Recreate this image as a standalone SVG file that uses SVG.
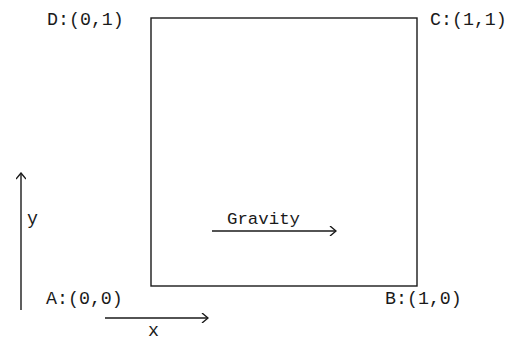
<svg xmlns="http://www.w3.org/2000/svg" width="511" height="341" viewBox="0 0 511 341">
<defs>
<style>
.t{font-family:"Liberation Mono","Courier New",monospace;font-size:18.3px;fill:#1a1a1a}
.g{font-size:17.4px}
.l{stroke:#1a1a1a;stroke-width:1.4;fill:none}
</style>
<marker id="ah" viewBox="0 0 10 10" refX="9" refY="5" markerWidth="10" markerHeight="10" markerUnits="userSpaceOnUse" orient="auto">
<path d="M3,0 L9,5 L3,10" fill="none" stroke="#1a1a1a" stroke-width="1.4"/>
</marker>
</defs>
<rect width="511" height="341" fill="#fff"/>
<g id="square"><rect class="l" x="151" y="18" width="266" height="268"/></g>
<g id="labels">
<text class="t" x="47" y="25">D:(0,1)</text>
<text class="t" x="430" y="25">C:(1,1)</text>
<text class="t" x="46" y="304">A:(0,0)</text>
<text class="t" x="385" y="304">B:(1,0)</text>
<text class="t g" x="227" y="224">Gravity</text>
<text class="t" x="27" y="224">y</text>
<text class="t" x="148" y="336">x</text>
</g>
<g id="connectors">
<line class="l" x1="21" y1="310" x2="21" y2="173" marker-end="url(#ah)"/>
<line class="l" x1="105" y1="318" x2="208" y2="318" marker-end="url(#ah)"/>
<line class="l" x1="212" y1="231" x2="336" y2="231" marker-end="url(#ah)"/>
</g>
</svg>
